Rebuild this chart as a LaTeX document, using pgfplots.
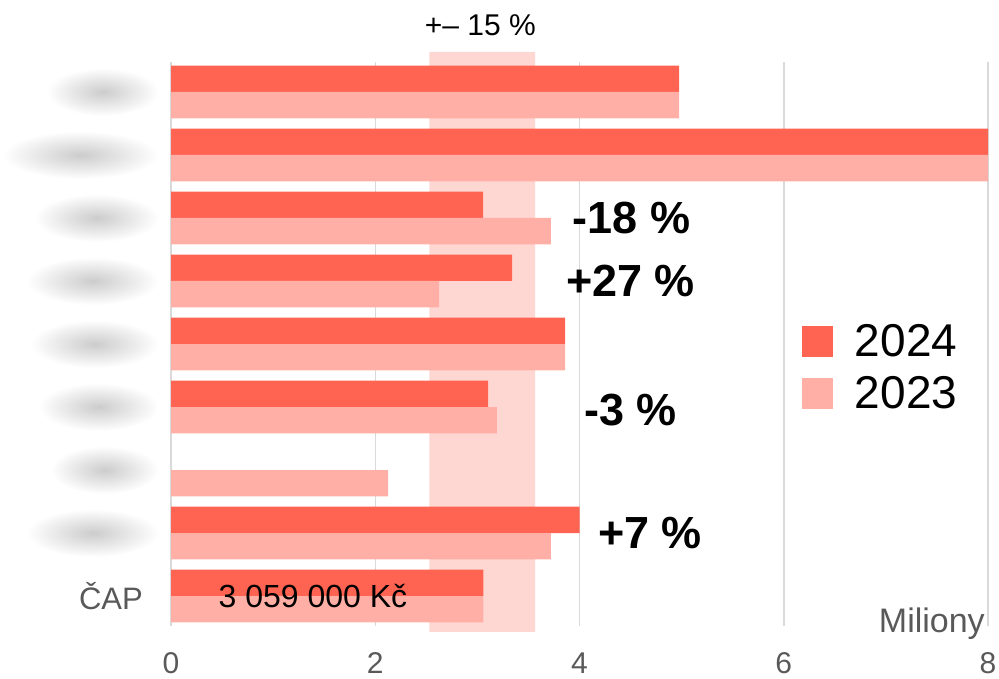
\documentclass[border=0pt]{standalone}
\usepackage{pgfplots}
\pgfplotsset{compat=1.18}
\usepackage{fontspec}
\setmainfont{Liberation Sans}
\definecolor{c24}{HTML}{FF6452}
\definecolor{c23}{HTML}{FFAFA5}
\definecolor{cband}{HTML}{FFD7D2}
\definecolor{tgray}{HTML}{595959}
% blurred (anonymised) category names
\newcommand{\blob}[1]{\tikz\shade[inner color=black!20,outer color=white] (0,0) ellipse (#1 and 24pt);}
\begin{document}
\begin{tikzpicture}
\useasboundingbox (0,0) rectangle (999pt,678pt);
\begin{axis}[
  at={(171pt,52pt)}, anchor=south west,
  scale only axis, width=817pt, height=564pt,
  xmin=0, xmax=8, ymin=-0.476, ymax=8.476,
  clip=false,
  axis line style={draw=none},
  major tick length=0pt,
  xtick={0,2,4,6,8},
  xmajorgrids,
  major grid style={draw=black!15, line width=1.5pt},
  /pgf/number format/assume math mode=true,
  xticklabel style={font=\fontsize{30}{36}\selectfont, text=tgray, anchor=base, yshift=-47pt},
  ytick={0,...,8},
  yticklabels={ČAP\hspace*{16pt}, \blob{66pt}, \blob{54pt}, \blob{60pt}, \blob{64pt}, \blob{66pt}, \blob{62pt}, \blob{78pt}, \blob{56pt}},
  yticklabel style={font=\fontsize{31}{36}\selectfont, text=tgray, anchor=east, inner sep=0pt, xshift=-12pt},
  legend image code/.code={\fill[#1,draw=none] (0pt,-16pt) rectangle (31pt,15pt);},
  legend style={at={(0.772,0.536)}, anchor=north west, draw=none, fill=none,
    inner sep=0pt, font=\fontsize{46}{52}\selectfont,
    nodes={inner sep=0pt}, column sep=22pt, row sep=19pt},
  legend cell align=left,
]
% +- 15 % band
\addplot[fill=cband, draw=none, forget plot] coordinates {
  (2.53,-0.571) (3.565,-0.571) (3.565,8.635) (2.53,8.635) (2.53,-0.571)};
\addplot[xbar, bar width=0.42, bar shift=0.21, fill=c24, draw=none] coordinates {
  (4.975,8) (8,7) (3.056,6) (3.34,5) (3.86,4) (3.105,3) (4.0,1) (3.059,0)};
\addplot[xbar, bar width=0.42, bar shift=-0.21, fill=c23, draw=none] coordinates {
  (4.975,8) (8,7) (3.72,6) (2.625,5) (3.86,4) (3.19,3) (2.125,2) (3.72,1) (3.059,0)};
\legend{2024,2023}
\begin{scope}[every node/.style={font=\bfseries\fontsize{45}{54}\selectfont}]
\node at (axis cs:4.51,6) {-18 \%};
\node at (axis cs:4.50,5) {+27 \%};
\node at (axis cs:4.50,2.95) {-3 \%};
\node at (axis cs:4.69,1) {+7 \%};
\end{scope}
\node[font=\fontsize{30}{36}\selectfont] at (axis cs:3.03,9.06) {+– 15 \%};
\node[font=\fontsize{32}{38}\selectfont] at (axis cs:1.39,0) {3 059 000 Kč};
\node[font=\fontsize{34}{40}\selectfont, text=tgray, anchor=base east, inner sep=0pt] at (axis cs:7.97,-0.587) {Miliony};
\end{axis}
\end{tikzpicture}
\end{document}
